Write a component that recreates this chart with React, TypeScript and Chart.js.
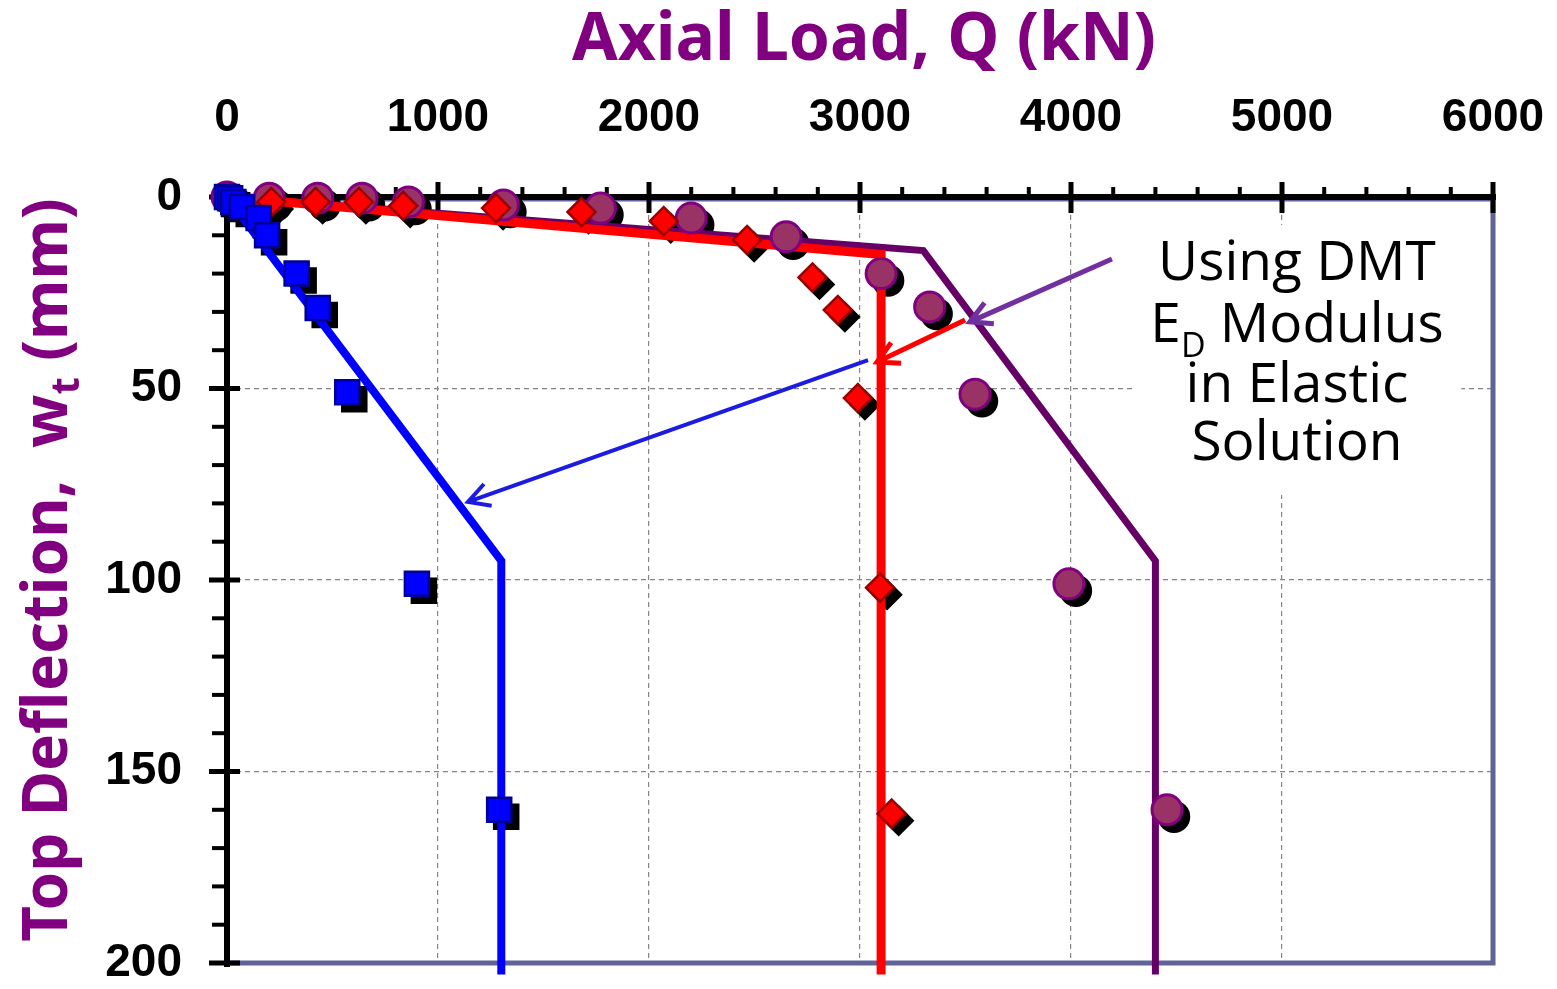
import React, { useEffect, useRef } from 'react';
import { Chart, registerables } from 'chart.js';

Chart.register(...registerables);

// Measured load-test points: axial load Q (kN) vs. top deflection w_t (mm)
const squareLoad = [0, 15, 30, 70, 150, 190, 330, 430, 570, 900, 1290];
const squareDefl = [0, 0.3, 1.3, 2.6, 5.5, 10, 20, 29, 51, 101, 160];

const circleLoad = [0, 200, 430, 640, 860, 1310, 1770, 2200, 2650, 3100, 3330, 3545, 3990, 4455];
const circleDefl = [0, 0.3, 0.3, 0.3, 1.3, 2.1, 2.9, 5.5, 10.4, 20, 28.7, 51.5, 101, 160];

const diamondLoad = [210, 420, 625, 835, 1275, 1680, 2070, 2465, 2775, 2895, 2990, 3095, 3150];
const diamondDefl = [1.3, 1.3, 1.3, 2.3, 2.9, 3.9, 6.3, 11.2, 21, 29.5, 52.5, 102, 161];

// Elastic solutions computed with the DMT E_D modulus
const blueFitLoad = [0, 1300, 1300];
const blueFitDefl = [0, 95, 203];
const redFitLoad = [0, 3100, 3100];
const redFitDefl = [0, 15, 203];
const purpleFitLoad = [0, 3300, 4400, 4400];
const purpleFitDefl = [0, 14, 95, 203];

// Axis ranges and tick spacing
const loadMax = 6000;
const loadMajor = 1000;
const loadMinor = 200;
const deflMax = 200;
const deflMajor = 50;
const deflMinor = 10;

// Callout arrows (tail -> head), in load / deflection units
const arrowTails = [[4194, 16.2], [3498, 32.1], [3038, 42.6]];
const arrowHeads = [[3521, 32.6], [3081, 43.1], [1142, 79.6]];
const arrowColors = ['#7030a0', '#ff0000', '#1c1ce0'];

// Callout text block
const noteCenterLoad = 5071;
const noteBaselines = [21.7, 37.9, 53.5, 68.7];
const noteBoxLoad = [4300, 5850];
const noteBoxDefl = [7.3, 77.8];

const toPts = (xs: number[], ys: number[]) => xs.map((x, i) => ({ x, y: ys[i] }));

const SHADOW = 7;

const shadowPlugin = {
  id: 'markerShadow',
  beforeDatasetDraw(chart: any, args: any) {
    const ds = chart.data.datasets[args.index];
    if (ds.isShadow) {
      chart.ctx.save();
      chart.ctx.translate(SHADOW, SHADOW);
    }
  },
  afterDatasetDraw(chart: any, args: any) {
    const ds = chart.data.datasets[args.index];
    if (ds.isShadow) chart.ctx.restore();
  },
};

const framePlugin = {
  id: 'frame',
  beforeDatasetsDraw(chart: any) {
    const { ctx, chartArea: a, scales } = chart;
    const xs = scales.x;
    const ys = scales.y;
    ctx.save();

    // white panel behind the callout text
    const bx0 = xs.getPixelForValue(noteBoxLoad[0]);
    const bx1 = xs.getPixelForValue(noteBoxLoad[1]);
    const by0 = ys.getPixelForValue(noteBoxDefl[0]);
    const by1 = ys.getPixelForValue(noteBoxDefl[1]);
    ctx.fillStyle = '#ffffff';
    ctx.fillRect(bx0, by0, bx1 - bx0, by1 - by0);

    // plot frame (right / bottom)
    ctx.strokeStyle = '#62629a';
    ctx.lineWidth = 5;
    ctx.strokeRect(a.left, a.top + 2, a.right - a.left, a.bottom - a.top - 2);

    // axis lines
    ctx.strokeStyle = '#000';
    ctx.lineWidth = 6;
    ctx.beginPath();
    ctx.moveTo(a.left - 3, a.top);
    ctx.lineTo(a.right + 3, a.top);
    ctx.moveTo(a.left, a.top - 3);
    ctx.lineTo(a.left, a.bottom + 4);
    ctx.stroke();

    // x ticks
    ctx.lineCap = 'butt';
    for (let v = 0; v <= loadMax; v += loadMinor) {
      const px = xs.getPixelForValue(v);
      ctx.beginPath();
      if (v % loadMajor === 0) {
        ctx.lineWidth = 5;
        ctx.moveTo(px, a.top - 15);
        ctx.lineTo(px, a.top + 16);
      } else {
        ctx.lineWidth = 4;
        ctx.moveTo(px, a.top - 10);
        ctx.lineTo(px, a.top);
      }
      ctx.stroke();
    }
    // y ticks
    for (let v = 0; v <= deflMax; v += deflMinor) {
      const py = ys.getPixelForValue(v);
      ctx.beginPath();
      if (v % deflMajor === 0) {
        ctx.lineWidth = 5;
        ctx.moveTo(a.left - 18, py);
        ctx.lineTo(a.left + 13, py);
      } else {
        ctx.lineWidth = 4;
        ctx.moveTo(a.left - 15, py);
        ctx.lineTo(a.left, py);
      }
      ctx.stroke();
    }
    ctx.restore();
  },
  afterDatasetsDraw(chart: any) {
    const { ctx, chartArea: a, scales } = chart;
    const xs = scales.x;
    const ys = scales.y;
    ctx.save();

    // callout arrows
    ctx.lineCap = 'butt';
    arrowTails.forEach((t, i) => {
      const x0 = xs.getPixelForValue(t[0]);
      const y0 = ys.getPixelForValue(t[1]);
      const x1 = xs.getPixelForValue(arrowHeads[i][0]);
      const y1 = ys.getPixelForValue(arrowHeads[i][1]);
      const ang = Math.atan2(y1 - y0, x1 - x0);
      ctx.strokeStyle = arrowColors[i];
      ctx.lineWidth = i === 2 ? 4 : 5;
      ctx.beginPath();
      ctx.moveTo(x0, y0);
      ctx.lineTo(x1, y1);
      const hl = 24;
      const spread = 0.5;
      ctx.moveTo(x1 - hl * Math.cos(ang - spread), y1 - hl * Math.sin(ang - spread));
      ctx.lineTo(x1, y1);
      ctx.lineTo(x1 - hl * Math.cos(ang + spread), y1 - hl * Math.sin(ang + spread));
      ctx.stroke();
    });

    // callout text
    const cx = xs.getPixelForValue(noteCenterLoad);
    const mainFont = '55px "Open Sans", "Noto Sans", sans-serif';
    const subFont = '34px "Open Sans", "Noto Sans", sans-serif';
    ctx.fillStyle = '#000';
    ctx.textBaseline = 'alphabetic';
    ctx.textAlign = 'left';
    const lines: { t: string; sub?: boolean }[][] = [
      [{ t: 'Using DMT' }],
      [{ t: 'E' }, { t: 'D', sub: true }, { t: ' Modulus' }],
      [{ t: 'in Elastic' }],
      [{ t: 'Solution' }],
    ];
    lines.forEach((parts, li) => {
      const base = ys.getPixelForValue(noteBaselines[li]);
      let total = 0;
      const widths = parts.map((p) => {
        ctx.font = p.sub ? subFont : mainFont;
        const w = ctx.measureText(p.t).width;
        total += w;
        return w;
      });
      let x = cx - total / 2;
      parts.forEach((p, pi) => {
        ctx.font = p.sub ? subFont : mainFont;
        ctx.fillText(p.t, x, p.sub ? base + 15 : base);
        x += widths[pi];
      });
    });

    // axis titles
    ctx.fillStyle = '#800080';
    ctx.font = 'bold 66px "Noto Sans", sans-serif';
    ctx.textAlign = 'center';
    ctx.fillText('Axial Load, Q (kN)', (a.left + a.right) / 2 + 4, 60);

    const yParts = [
      { t: 'Top Deflection,  w', f: 'bold 62px "Noto Sans", sans-serif', dy: 0 },
      { t: 't', f: 'bold 40px "Noto Sans", sans-serif', dy: 12 },
      { t: ' (mm)', f: 'bold 62px "Noto Sans", sans-serif', dy: 0 },
    ];
    let tw = 0;
    const yw = yParts.map((p) => {
      ctx.font = p.f;
      const w = ctx.measureText(p.t).width;
      tw += w;
      return w;
    });
    ctx.translate(67, 570);
    ctx.rotate(-Math.PI / 2);
    ctx.textAlign = 'left';
    let px = -tw / 2;
    yParts.forEach((p, i) => {
      ctx.font = p.f;
      ctx.fillText(p.t, px, p.dy);
      px += yw[i];
    });
    ctx.restore();
  },
};

const gridColor = (max: number) => (c: any) =>
  c.tick && (c.tick.value === 0 || c.tick.value === max) ? 'rgba(0,0,0,0)' : '#858585';

const tickFont = { family: '"Liberation Sans", Arial, sans-serif', size: 46, weight: 'bold' as const };

// Fixes the scale box and drops label overhang so the plot area is set by the layout padding
const fitBox = (dim: 'width' | 'height', size: number) => (s: any) => {
  s[dim] = size;
  s.paddingLeft = 0;
  s.paddingRight = 0;
  s.paddingTop = 0;
  s.paddingBottom = 0;
};

export default function App() {
  const ref = useRef<HTMLCanvasElement | null>(null);

  useEffect(() => {
    document.body.style.margin = '0';
    const canvas = ref.current;
    if (!canvas) return;

    const markerShadow = (data: any[], style: string, radius: number) => ({
      data,
      isShadow: true,
      showLine: false,
      pointStyle: style,
      pointRadius: radius,
      backgroundColor: '#000',
      borderColor: '#000',
      pointBorderWidth: 2.5,
      clip: false,
      order: 9,
    });

    const squares = toPts(squareLoad, squareDefl);
    const circles = toPts(circleLoad, circleDefl);
    const diamonds = toPts(diamondLoad, diamondDefl);

    const chart = new Chart(canvas, {
      type: 'scatter',
      data: {
        datasets: [
          markerShadow(squares, 'rect', 17),
          markerShadow(circles, 'circle', 15),
          markerShadow(diamonds, 'rectRot', 14),
          {
            data: toPts(purpleFitLoad, purpleFitDefl),
            showLine: true,
            borderColor: '#660066',
            borderWidth: 7,
            pointRadius: 0,
            clip: false,
            order: 7,
          },
          {
            data: toPts(redFitLoad, redFitDefl),
            showLine: true,
            borderColor: '#ff0000',
            borderWidth: 9,
            pointRadius: 0,
            clip: false,
            order: 6,
          },
          {
            data: toPts(blueFitLoad, blueFitDefl),
            showLine: true,
            borderColor: '#0000ff',
            borderWidth: 8,
            pointRadius: 0,
            clip: false,
            order: 5,
          },
          {
            data: circles,
            showLine: false,
            pointStyle: 'circle',
            pointRadius: 15,
            backgroundColor: '#993366',
            borderColor: '#800080',
            pointBorderWidth: 3,
            clip: false,
            order: 3,
          },
          {
            data: diamonds,
            showLine: false,
            pointStyle: 'rectRot',
            pointRadius: 14,
            backgroundColor: '#ff0000',
            borderColor: '#990000',
            pointBorderWidth: 2.5,
            clip: false,
            order: 2,
          },
          {
            data: squares,
            showLine: false,
            pointStyle: 'rect',
            pointRadius: 17,
            backgroundColor: '#0000ff',
            borderColor: '#000099',
            pointBorderWidth: 2.5,
            clip: false,
            order: 1,
          },
        ] as any,
      },
      options: {
        responsive: false,
        animation: false,
        devicePixelRatio: 1,
        events: [],
        layout: { padding: { top: 0, left: 0, right: 64, bottom: 26 } },
        plugins: {
          legend: { display: false },
          tooltip: { enabled: false },
        },
        scales: {
          x: {
            type: 'linear',
            position: 'top',
            min: 0,
            max: loadMax,
            ticks: {
              stepSize: loadMajor,
              padding: 51,
              color: '#000',
              font: tickFont,
              maxRotation: 0,
              autoSkip: false,
              callback: (v: any) => String(v),
            },
            grid: { drawTicks: false, color: gridColor(loadMax), lineWidth: 1.2 },
            border: { display: false, dash: [5, 4] },
            afterFit: fitBox('height', 197),
          },
          y: {
            type: 'linear',
            position: 'left',
            reverse: true,
            min: 0,
            max: deflMax,
            ticks: {
              stepSize: deflMajor,
              padding: 45,
              color: '#000',
              font: tickFont,
              autoSkip: false,
              callback: (v: any) => String(v),
            },
            grid: { drawTicks: false, color: gridColor(deflMax), lineWidth: 1.2 },
            border: { display: false, dash: [5, 4] },
            afterFit: fitBox('width', 227),
          },
        },
      } as any,
      plugins: [shadowPlugin, framePlugin],
    });

    return () => chart.destroy();
  }, []);

  return (
    <div style={{ width: 1557, height: 989, background: '#fff' }}>
      <canvas ref={ref} width={1557} height={989} style={{ display: 'block' }} />
    </div>
  );
}
